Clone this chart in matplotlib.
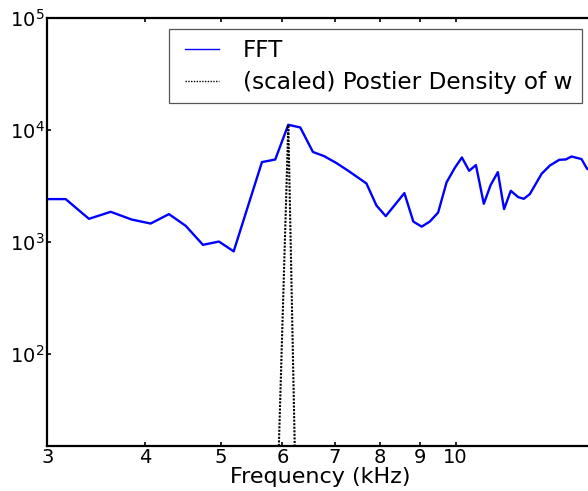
import matplotlib
matplotlib.use("Agg")
import matplotlib.pyplot as plt
from matplotlib.lines import Line2D
from matplotlib.legend_handler import HandlerLine2D
import numpy as np

# FFT magnitude
fft_freq = [2.94, 3.167, 3.392, 3.617, 3.848, 4.069, 4.295, 4.512, 4.748, 4.977,
            5.198, 5.650, 5.876, 6.106, 6.326, 6.567, 6.785, 7.04, 7.31, 7.69,
            7.92, 8.14, 8.60, 8.83, 9.05, 9.27, 9.50, 9.74, 9.98, 10.19,
            10.41, 10.62, 10.87, 11.09, 11.33, 11.54, 11.77, 12.03, 12.23, 12.45,
            12.89, 13.21, 13.58, 13.84, 14.08, 14.50, 14.74, 14.96]
fft_vals = [2412, 2412, 1607, 1856, 1583, 1458, 1770, 1391, 940, 1006,
            822, 5170, 5455, 11152, 10551, 6368, 5852, 5064, 4261, 3327,
            2113, 1698, 2729, 1517, 1368, 1519, 1829, 3409, 4597, 5685,
            4322, 4861, 2189, 3218, 4207, 1962, 2861, 2513, 2427, 2673,
            4061, 4820, 5420, 5455, 5802, 5501, 4504, 4300]

# scaled posterior density of w
post_freq = [5.88, 6.107, 6.33]
post_vals = [1.4, 11150, 0.04]

xticks = [3, 4, 5, 6, 7, 8, 9, 10]
xticklabels = ["3", "4", "5", "6", "7", "8", "9", "10"]
yticks = [1e2, 1e3, 1e4, 1e5]

W, H = 588, 491
fig = plt.figure(figsize=(W / 100, H / 100), dpi=100)
ax = fig.add_axes([47.3 / W, 1 - 445.7 / H, (593 - 47.3) / W, (445.7 - 18.3) / H])

ax.plot(fft_freq, fft_vals, color="#0000ff", lw=1.7, label="FFT")
ax.plot(post_freq, post_vals, color="black", ls=(0, (1, 0.7)), lw=1.5,
        label="(scaled) Postier Density of w")

ax.set_xscale("log")
ax.set_yscale("log")
ax.set_xlim(3, 15)
ax.set_ylim(15, 1e5)
ax.set_xticks(xticks)
ax.set_xticklabels(xticklabels)
ax.xaxis.set_minor_locator(matplotlib.ticker.NullLocator())
ax.yaxis.set_minor_locator(matplotlib.ticker.NullLocator())
ax.set_yticks(yticks)

ax.tick_params(which="major", direction="in", length=3, width=1.2,
               top=True, right=True, labelsize=14)
ax.tick_params(axis="x", pad=1.5)
ax.tick_params(axis="y", pad=2)
for s in ax.spines.values():
    s.set_linewidth(1.6)
ax.set_xlabel("Frequency (kHz)", fontsize=16, labelpad=0)


class ShortHandler(HandlerLine2D):
    def create_artists(self, legend, orig_handle, xdescent, ydescent, width,
                       height, fontsize, trans):
        arts = super().create_artists(legend, orig_handle, xdescent, ydescent,
                                      width, height, fontsize, trans)
        xd = np.asarray(arts[0].get_xdata(), dtype=float)
        yd = np.asarray(arts[0].get_ydata(), dtype=float)
        off = 6.7 * 72 / 100.0
        arts[0].set_data(np.linspace(xd[0] + off, xd[-1], len(yd)), yd)
        return arts


lfs = 16.7
handles = [Line2D([], [], color="#0000ff", lw=1.0),
           Line2D([], [], color="black", ls=(0, (1, 1)), lw=1.0)]
leg = ax.legend(handles, ["FFT", "(scaled) Postier Density of w"],
                loc="upper right", fontsize=lfs, fancybox=False,
                handlelength=1.75, handletextpad=1.03, borderaxespad=0.48,
                borderpad=0.4, labelspacing=0.4, framealpha=1,
                handler_map={Line2D: ShortHandler()})
leg.get_frame().set_edgecolor("#555555")
leg.get_frame().set_linewidth(0.9)

fig.savefig("out.png", dpi=100)
